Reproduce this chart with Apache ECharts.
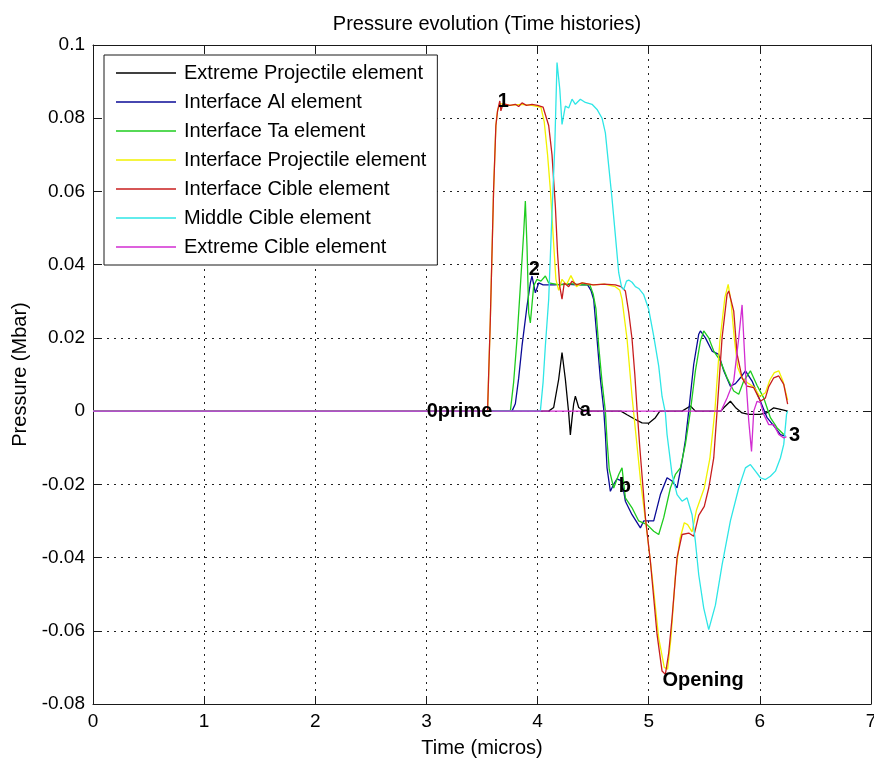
<!DOCTYPE html>
<html>
<head>
<meta charset="utf-8">
<script src="https://cdn.jsdelivr.net/npm/echarts@6/dist/echarts.min.js"></script>
<style>
html,body{margin:0;padding:0;background:#fff;}
#chart{width:874px;height:760px;}
</style>
</head>
<body>
<div id="chart"></div>
<script>
// ---- data (time in micros, pressure in Mbar) ----
const seriesNames = [
  'Extreme Projectile element',
  'Interface Al element',
  'Interface Ta element',
  'Interface Projectile element',
  'Interface Cible element',
  'Middle Cible element',
  'Extreme Cible element'
];
const seriesColors = ['#000000', '#0a0a96', '#1ecc1e', '#f2f200', '#c81e1e', '#2ee6e6', '#d22dd2'];

const xTicks = [0, 1, 2, 3, 4, 5, 6, 7];
const yTicks = [-0.08, -0.06, -0.04, -0.02, 0, 0.02, 0.04, 0.06, 0.08, 0.1];

const extremeProjectile = [[0,0],[4.1,0],[4.145,0.001],[4.19,0.0087],[4.22,0.016],[4.25,0.0087],[4.28,-0.0005],[4.295,-0.0065],[4.31,-0.002],[4.325,0.002],[4.34,0.0041],[4.37,0.001],[4.42,0],[4.6,0],[4.75,0],[4.805,-0.001],[4.88,-0.0023],[4.94,-0.0032],[5.0,-0.0033],[5.06,-0.0018],[5.1,0],[5.2,0],[5.3,0],[5.375,0.0014],[5.42,0],[5.65,0],[5.675,0.0009],[5.735,0.0027],[5.78,0.001],[5.84,-0.0005],[5.9,-0.0009],[6.0,-0.0009],[6.06,-0.0005],[6.125,0.0009],[6.185,0.0005],[6.25,0]];

const interfaceAl = [[0,0],[3.77,0],[3.8,0.002],[3.83,0.009],[3.86,0.0178],[3.905,0.0287],[3.935,0.035],[3.95,0.0369],[3.98,0.0323],[4.01,0.035],[4.05,0.0345],[4.15,0.0345],[4.25,0.0347],[4.35,0.0345],[4.45,0.0345],[4.48,0.033],[4.505,0.0305],[4.535,0.0197],[4.565,0.0088],[4.595,0.0005],[4.61,-0.0063],[4.625,-0.0155],[4.655,-0.0219],[4.685,-0.020],[4.715,-0.0185],[4.76,-0.0191],[4.79,-0.0246],[4.85,-0.0283],[4.925,-0.0319],[4.955,-0.030],[5.045,-0.030],[5.105,-0.0228],[5.165,-0.0182],[5.21,-0.0191],[5.255,-0.021],[5.30,-0.0137],[5.33,-0.008],[5.36,0],[5.405,0.0128],[5.45,0.021],[5.465,0.0219],[5.51,0.020],[5.57,0.0164],[5.63,0.0155],[5.675,0.011],[5.735,0.0068],[5.78,0.0075],[5.825,0.0091],[5.87,0.011],[5.93,0.0082],[6.005,0.0027],[6.065,-0.0018],[6.14,-0.0046],[6.185,-0.0064],[6.23,-0.0068]];

const interfaceTa = [[0,0],[3.755,0],[3.785,0.008],[3.815,0.0197],[3.845,0.034],[3.875,0.0487],[3.89,0.0574],[3.905,0.045],[3.92,0.0268],[3.935,0.0241],[3.965,0.0342],[3.995,0.036],[4.03,0.0355],[4.07,0.0369],[4.1,0.035],[4.2,0.0345],[4.3,0.0348],[4.4,0.0345],[4.47,0.0345],[4.5,0.032],[4.525,0.028],[4.55,0.0178],[4.58,0.008],[4.61,0],[4.625,-0.008],[4.645,-0.016],[4.685,-0.021],[4.73,-0.0173],[4.76,-0.0155],[4.79,-0.0237],[4.85,-0.0264],[4.91,-0.030],[4.985,-0.031],[5.045,-0.0328],[5.09,-0.0337],[5.135,-0.0291],[5.195,-0.021],[5.24,-0.0173],[5.285,-0.0155],[5.33,-0.0091],[5.375,0],[5.42,0.011],[5.465,0.0191],[5.495,0.0219],[5.54,0.020],[5.585,0.0164],[5.645,0.0137],[5.705,0.0091],[5.765,0.0055],[5.81,0.0046],[5.855,0.0082],[5.915,0.011],[5.975,0.007],[6.035,0.0036],[6.095,-0.0018],[6.155,-0.0046],[6.215,-0.0064]];

const interfaceProjectile = [[0,0],[3.55,0],[3.575,0.025],[3.604,0.06],[3.625,0.078],[3.64,0.082],[3.66,0.084],[3.75,0.0835],[3.85,0.0838],[3.95,0.0835],[4.03,0.083],[4.06,0.079],[4.09,0.07],[4.115,0.0605],[4.14,0.048],[4.165,0.036],[4.19,0.033],[4.22,0.036],[4.26,0.0345],[4.3,0.037],[4.35,0.034],[4.4,0.035],[4.5,0.0345],[4.6,0.0347],[4.7,0.034],[4.74,0.033],[4.76,0.0305],[4.805,0.0197],[4.85,0.004],[4.88,-0.005],[4.93,-0.02],[4.98,-0.032],[5.03,-0.045],[5.09,-0.062],[5.14,-0.070],[5.17,-0.0705],[5.2,-0.062],[5.24,-0.045],[5.28,-0.035],[5.32,-0.0305],[5.35,-0.031],[5.39,-0.033],[5.43,-0.027],[5.5,-0.021],[5.55,-0.013],[5.595,0],[5.64,0.019],[5.685,0.031],[5.715,0.0346],[5.74,0.03],[5.77,0.02],[5.8,0.012],[5.84,0.009],[5.9,0.0075],[5.95,0.0065],[6.0,0.004],[6.05,0.005],[6.09,0.0085],[6.13,0.0105],[6.17,0.011],[6.21,0.008],[6.25,0.003]];

const interfaceCible = [[0,0],[3.55,0],[3.575,0.025],[3.604,0.06],[3.625,0.078],[3.64,0.082],[3.66,0.0847],[3.67,0.082],[3.69,0.084],[3.75,0.0835],[3.8,0.0838],[3.83,0.0832],[3.86,0.0842],[3.9,0.0835],[3.95,0.0838],[4.0,0.0835],[4.05,0.083],[4.1,0.078],[4.13,0.07],[4.16,0.056],[4.18,0.043],[4.2,0.034],[4.22,0.0306],[4.24,0.035],[4.28,0.034],[4.31,0.0355],[4.35,0.0345],[4.4,0.035],[4.5,0.0345],[4.6,0.0347],[4.7,0.0345],[4.75,0.034],[4.79,0.0328],[4.82,0.027],[4.85,0.0197],[4.875,0.01],[4.895,0.0005],[4.92,-0.01],[4.97,-0.029],[5.015,-0.041],[5.075,-0.061],[5.12,-0.071],[5.15,-0.0719],[5.18,-0.066],[5.21,-0.0565],[5.255,-0.040],[5.30,-0.0337],[5.36,-0.0333],[5.405,-0.0342],[5.45,-0.0285],[5.5,-0.026],[5.54,-0.021],[5.585,-0.0128],[5.615,0],[5.66,0.020],[5.705,0.0319],[5.72,0.0328],[5.765,0.0273],[5.795,0.0156],[5.84,0.0091],[5.885,0.0068],[5.945,0.0064],[6.005,0.0027],[6.05,0.0036],[6.08,0.0067],[6.125,0.0091],[6.17,0.0096],[6.215,0.0073],[6.25,0.0019]];

const middleCible = [[0,0],[4.025,0],[4.05,0.008],[4.07,0.0178],[4.1,0.0305],[4.13,0.0542],[4.155,0.0724],[4.175,0.0952],[4.2,0.0879],[4.22,0.0783],[4.25,0.0833],[4.28,0.0828],[4.31,0.0852],[4.34,0.0838],[4.385,0.0852],[4.43,0.0843],[4.49,0.0838],[4.535,0.0824],[4.58,0.080],[4.61,0.076],[4.64,0.067],[4.67,0.058],[4.7,0.048],[4.73,0.0378],[4.755,0.034],[4.775,0.0332],[4.8,0.0355],[4.82,0.0358],[4.85,0.0352],[4.88,0.034],[4.91,0.0335],[4.955,0.0318],[5.0,0.0278],[5.045,0.0205],[5.09,0.0123],[5.12,0.004],[5.15,-0.0005],[5.165,-0.0064],[5.21,-0.0173],[5.255,-0.0228],[5.3,-0.0246],[5.345,-0.0237],[5.39,-0.0283],[5.42,-0.0356],[5.45,-0.0447],[5.495,-0.0538],[5.54,-0.0597],[5.6,-0.053],[5.66,-0.042],[5.735,-0.030],[5.81,-0.021],[5.87,-0.0155],[5.915,-0.0146],[5.96,-0.0164],[6.005,-0.0182],[6.05,-0.0187],[6.095,-0.0178],[6.14,-0.0164],[6.185,-0.0128],[6.215,-0.0091],[6.24,-0.0009],[6.25,0]];

const extremeCible = [[0,0],[5.65,0],[5.705,0.0036],[5.765,0.0082],[5.81,0.020],[5.84,0.029],[5.87,0.011],[5.9,-0.0027],[5.925,-0.011],[5.945,0],[5.975,0.0027],[6.005,0.0023],[6.035,-0.0009],[6.08,-0.0037],[6.125,-0.0037],[6.17,-0.0064],[6.215,-0.0073],[6.24,-0.007]];

// text annotations: [x (left of text), y (text centre), label]
const annotations = [[3.638,0.0847,'1'],[3.917,0.0386,'2'],[2.998,0.0,'0prime'],[4.376,0.0003,'a'],[4.727,-0.0205,'b'],[5.12,-0.0737,'Opening'],[6.258,-0.0067,'3']];

const allData = [extremeProjectile, interfaceAl, interfaceTa, interfaceProjectile, interfaceCible, middleCible, extremeCible];

const FONT = '"Liberation Sans", Arial, Helvetica, sans-serif';
const fmtY = v => String(parseFloat(Number(v).toFixed(2)));

const chart = echarts.init(document.getElementById('chart'), null, {renderer: 'canvas'});

const lineSeries = seriesNames.map((name, i) => ({
  name: name,
  type: 'line',
  data: allData[i],
  symbol: 'none',
  showSymbol: false,
  smooth: false,
  xAxisIndex: 0,
  yAxisIndex: 0,
  lineStyle: {color: seriesColors[i], width: 1.3},
  itemStyle: {color: seriesColors[i]},
  emphasis: {disabled: true},
  z: 2 + i
}));

const axisLineStyle = {lineStyle: {color: '#1a1a1a', width: 1}};
const tickStyle = {show: true, inside: true, length: 8, lineStyle: {color: '#1a1a1a', width: 1}};
const gridLineStyle = {show: true, lineStyle: {color: '#222', width: 1, type: [2, 5]}};

chart.setOption({
  animation: false,
  backgroundColor: '#ffffff',
  title: {
    text: 'Pressure evolution (Time histories)',
    left: 482,
    textAlign: 'center',
    top: 9,
    textStyle: {fontFamily: FONT, fontSize: 20, fontWeight: 'normal', color: '#000'}
  },
  legend: {
    data: seriesNames.map((n, i) => ({name: n, icon: 'rect', itemStyle: {color: seriesColors[i]}})),
    orient: 'vertical',
    left: 104,
    top: 55,
    itemWidth: 60,
    itemHeight: 1.5,
    itemGap: 9,
    padding: [8, 11, 8, 12],
    borderColor: '#1a1a1a',
    borderWidth: 1,
    backgroundColor: '#ffffff',
    selectedMode: false,
    textStyle: {fontFamily: FONT, fontSize: 20, color: '#000', padding: [0, 0, 0, 3]},
    z: 20
  },
  grid: {left: 93, right: 3, top: 45, bottom: 56, containLabel: false, outerBoundsMode: 'none'},
  xAxis: [{
    type: 'value', min: xTicks[0], max: xTicks[xTicks.length - 1], interval: 1,
    position: 'bottom',
    name: 'Time (micros)', nameLocation: 'middle', nameGap: 34,
    nameTextStyle: {fontFamily: FONT, fontSize: 20, color: '#000'},
    axisLine: Object.assign({show: true, onZero: false}, axisLineStyle),
    axisTick: tickStyle,
    axisLabel: {fontFamily: FONT, fontSize: 19, color: '#000', margin: 8},
    splitLine: gridLineStyle
  }, {
    type: 'value', min: xTicks[0], max: xTicks[xTicks.length - 1], interval: 1,
    position: 'top',
    axisLine: Object.assign({show: true, onZero: false}, axisLineStyle),
    axisTick: tickStyle,
    axisLabel: {show: false},
    splitLine: {show: false}
  }],
  yAxis: [{
    type: 'value', min: yTicks[0], max: yTicks[yTicks.length - 1], interval: 0.02,
    position: 'left',
    name: 'Pressure (Mbar)', nameLocation: 'middle', nameGap: 60, nameRotate: 90,
    nameTextStyle: {fontFamily: FONT, fontSize: 20, color: '#000'},
    axisLine: Object.assign({show: true, onZero: false}, axisLineStyle),
    axisTick: tickStyle,
    axisLabel: {fontFamily: FONT, fontSize: 19, color: '#000', margin: 8, formatter: fmtY},
    splitLine: gridLineStyle
  }, {
    type: 'value', min: yTicks[0], max: yTicks[yTicks.length - 1], interval: 0.02,
    position: 'right',
    axisLine: Object.assign({show: true, onZero: false}, axisLineStyle),
    axisTick: tickStyle,
    axisLabel: {show: false},
    splitLine: {show: false}
  }],
  series: lineSeries.concat([{
    name: 'annotations',
    type: 'scatter',
    xAxisIndex: 0,
    yAxisIndex: 0,
    data: annotations.map(a => ({value: [a[0], a[1]], name: a[2]})),
    symbol: 'circle',
    symbolSize: 1,
    itemStyle: {color: 'rgba(0,0,0,0)'},
    silent: true,
    z: 30,
    label: {
      show: true,
      position: 'right',
      distance: 0,
      formatter: p => p.name,
      fontFamily: FONT,
      fontSize: 20,
      fontWeight: 'bold',
      color: '#000000',
      opacity: 1,
      textBorderWidth: 0
    }
  }])
});
</script>
</body>
</html>
